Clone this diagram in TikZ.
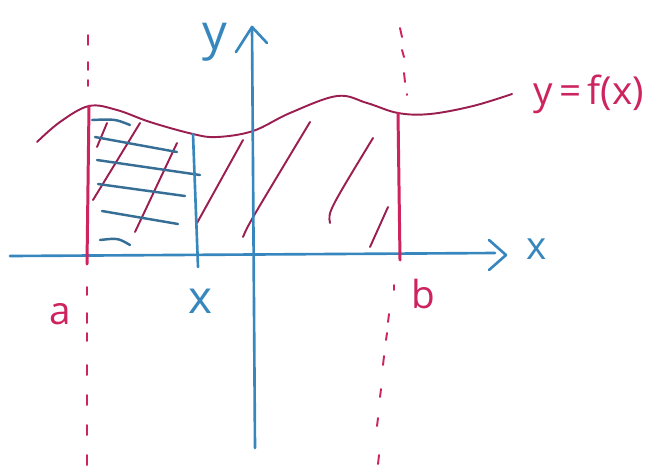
\documentclass[tikz,border=0pt]{standalone}
\usepackage{fontspec}
\setmainfont{Open Sans}
\definecolor{pinkline}{RGB}{205,35,95}
\definecolor{curvecol}{RGB}{155,30,80}
\definecolor{blueline}{RGB}{55,135,190}
\definecolor{hatchblue}{RGB}{55,110,150}
\begin{document}
\begin{tikzpicture}[x=0.02cm,y=-0.02cm,
  axisline/.style={blueline,line width=1.5pt,line cap=round,line join=round},
  bounds/.style={pinkline,line width=1.7pt,line cap=round},
  curveline/.style={curvecol,line width=1.1pt,line cap=round},
  phatch/.style={curvecol,line width=1.1pt,line cap=round},
  bhatch/.style={hatchblue,line width=1.4pt,line cap=round},
  dashseg/.style={pinkline,line width=1.1pt,line cap=round},
  bluelabel/.style={blueline,font=\fontsize{22}{24}\selectfont,inner sep=0pt},
  pinklabel/.style={pinkline,font=\fontsize{22}{24}\selectfont,inner sep=0pt}]
\useasboundingbox (0,0) rectangle (671,471);

% named coordinates
\coordinate (xl) at (10,256);
\coordinate (xr) at (495,253);
\coordinate (yb) at (255,448);
\coordinate (yt) at (252,27);
\coordinate (atop) at (89,106);
\coordinate (abot) at (87,264);
\coordinate (btop) at (398,113);
\coordinate (bbot) at (400,260);
\coordinate (xtop) at (193,134);
\coordinate (xbot) at (198,267);

% dashed vertical guides (upper parts)
\foreach \ya/\yb in {35/45,62/70,80/86}
  \draw[dashseg] (88,\ya) -- (88,\yb);
\foreach \xa/\ya/\xb/\yb in {400/28/402/37,402/50/404/57,404/73/405/82,407/94/407/95}
  \draw[dashseg] (\xa,\ya) -- (\xb,\yb);
% dashed vertical guides (lower parts)
\foreach \ya/\yb in {287/295,313/323,333/341,365/375,395/405,425/435,455/465}
  \draw[dashseg] (87,\ya) -- (87,\yb);
\foreach \xa/\ya/\xb/\yb in {394/285/394/290,389/314/388/322,387/333/386/340,384/356/383/365,381/389/380/397,378/418/377/426,379/455/378/464}
  \draw[dashseg] (\xa,\ya) -- (\xb,\yb);

% curve y = f(x)
\draw[curveline] plot[smooth,tension=0.6] coordinates {(37,142) (60,122) (89,106) (117,110) (150,122) (193,134) (217,137) (253,131) (290,113) (337,96) (367,103) (398,113) (430,114) (473,106) (512,94)};

% magenta diagonal hatching
\draw[phatch] (107,123) -- (97,147);
\draw[phatch] (93,200) -- (140,123);
\draw[phatch] (135,232) -- (177,143);
\draw[phatch] (197,223) -- (243,140);
\draw[phatch] (243,237) .. controls (248,225) .. (310,122);
\draw[phatch] (330,223) .. controls (328,212) .. (373,138);
\draw[phatch] (370,247) -- (388,207);

% blue horizontal hatching
\draw[bhatch] (92,120) .. controls (115,119) .. (130,125);
\draw[bhatch] (95,137) -- (177,152);
\draw[bhatch] (97,160) -- (200,175);
\draw[bhatch] (98,184) -- (185,196);
\draw[bhatch] (102,211) -- (178,224);
\draw[bhatch] (100,240) .. controls (118,238) .. (130,245);

% axes
\draw[axisline] (xl) -- (xr);
\draw[axisline] (yb) -- (yt);
\draw[axisline] (489,240) -- (506,255) -- (489,270);
\draw[axisline] (236,52) -- (yt) -- (267,43);

% bounds a, b and moving x
\draw[bounds] (atop) -- (abot);
\draw[bounds] (btop) -- (bbot);
\draw[axisline] (xtop) -- (xbot);

% labels
\node[bluelabel,font=\fontsize{28}{30}\selectfont] (ylab) at (215,42) {y};
\node[bluelabel] (xlab) at (537,249) {x};
\node[bluelabel,font=\fontsize{26}{28}\selectfont] (xmark) at (200,301) {x};
\node[pinklabel] (alab) at (60,314) {a};
\node[pinklabel] (blab) at (423,294) {b};
\node[pinklabel,anchor=west] (flab) at (533,94) {y\,=\,f(x)};
\end{tikzpicture}
\end{document}
